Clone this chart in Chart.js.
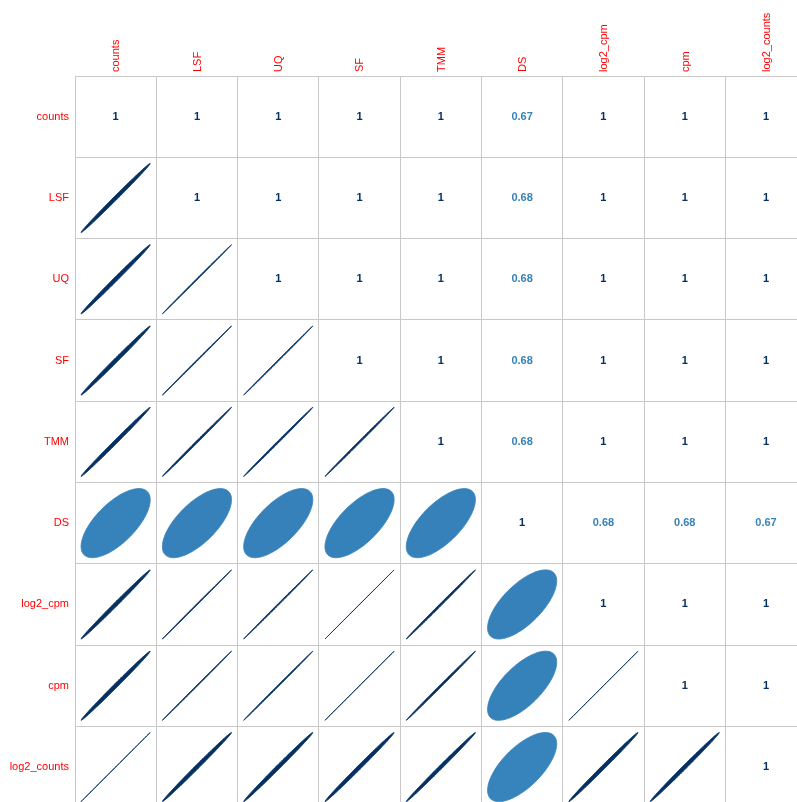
<!DOCTYPE html>
<html>
<head>
<meta charset="utf-8">
<script src="https://cdn.jsdelivr.net/npm/chart.js@4/dist/chart.umd.min.js"></script>
<style>
html, body { margin: 0; padding: 0; background: #ffffff; }
canvas { display: block; }
</style>
</head>
<body>
<canvas id="c" width="797" height="802"></canvas>
<script>
// Variable names (rows and columns of the correlation matrix)
const variables = ['counts', 'LSF', 'UQ', 'SF', 'TMM', 'DS', 'log2_cpm', 'cpm', 'log2_counts'];

// Correlation matrix, one row per variable
const r_counts      = [1,        0.9972,  0.9970,  0.9970,   0.9975, 0.674, 0.9972,   0.9970,   0.999999];
const r_LSF         = [0.9972,   1,       0.9998,  0.9998,   0.9993, 0.679, 0.9998,   0.9998,   0.9971];
const r_UQ          = [0.9970,   0.9998,  1,       0.9998,   0.9994, 0.678, 0.9997,   0.9997,   0.9970];
const r_SF          = [0.9970,   0.9998,  0.9998,  1,        0.9994, 0.681, 0.999995, 0.999995, 0.9970];
const r_TMM         = [0.9975,   0.9993,  0.9994,  0.9994,   1,      0.679, 0.9992,   0.9992,   0.9976];
const r_DS          = [0.674,    0.679,   0.678,   0.681,    0.679,  1,     0.678,    0.680,    0.672];
const r_log2_cpm    = [0.9972,   0.9998,  0.9997,  0.999995, 0.9992, 0.678, 1,        0.999998, 0.9972];
const r_cpm         = [0.9970,   0.9998,  0.9997,  0.999995, 0.9992, 0.680, 0.999998, 1,        0.9971];
const r_log2_counts = [0.999999, 0.9971,  0.9970,  0.9970,   0.9976, 0.672, 0.9972,   0.9971,   1];

const corr = [r_counts, r_LSF, r_UQ, r_SF, r_TMM, r_DS, r_log2_cpm, r_cpm, r_log2_counts];

// Diverging palette (red -> white -> blue), correlation -1 .. 1
const palette = ['#67001F', '#B2182B', '#D6604D', '#F4A582', '#FDDBC7', '#FFFFFF',
                 '#D1E5F0', '#92C5DE', '#4393C3', '#2166AC', '#053061'];

function hexToRgb(h) {
  return [parseInt(h.slice(1, 3), 16), parseInt(h.slice(3, 5), 16), parseInt(h.slice(5, 7), 16)];
}
function colorFor(r) {
  const f = (Math.max(-1, Math.min(1, r)) + 1) / 2 * (palette.length - 1);
  const i = Math.min(palette.length - 2, Math.floor(f));
  const t = f - i;
  const a = hexToRgb(palette[i]), b = hexToRgb(palette[i + 1]);
  const c = a.map((v, k) => Math.round(v + (b[k] - v) * t));
  return 'rgb(' + c.join(',') + ')';
}

// Ellipse outline in data units, centred on the cell (col, row)
function ellipsePoints(rho, col, row) {
  const a = Math.acos(Math.min(1, rho)) / 2;
  const pts = [];
  const n = 99;
  for (let k = 0; k < n; k++) {
    const t = 2 * Math.PI * k / (n - 1);
    pts.push({ x: col + 0.85 * Math.cos(t + a) / 2, y: row - 0.85 * Math.cos(t - a) / 2 });
  }
  return pts;
}

const datasets = [];
for (let i = 0; i < variables.length; i++) {
  for (let j = 0; j < i; j++) {
    const r = corr[i][j];
    const col = colorFor(r);
    datasets.push({
      label: variables[i] + ' ~ ' + variables[j],
      data: ellipsePoints(r, j, i),
      showLine: true,
      fill: 'shape',
      backgroundColor: col,
      borderColor: col,
      borderWidth: 1,
      pointRadius: 0,
      pointHoverRadius: 0,
      tension: 0.0001,
      cubicInterpolationMode: 'default'
    });
  }
}

function fmt(r) {
  return String(Math.round(r * 100) / 100);
}

const numbersPlugin = {
  id: 'corrNumbers',
  afterDatasetsDraw(chart) {
    const { ctx } = chart;
    const xs = chart.scales.x, ys = chart.scales.y;
    ctx.save();
    ctx.font = 'bold 11px "Liberation Sans", Arial, sans-serif';
    ctx.textAlign = 'center';
    ctx.textBaseline = 'middle';
    for (let i = 0; i < variables.length; i++) {
      for (let j = i; j < variables.length; j++) {
        const r = corr[i][j];
        ctx.fillStyle = colorFor(r);
        ctx.fillText(fmt(r), xs.getPixelForValue(j), ys.getPixelForValue(i));
      }
    }
    ctx.restore();
  }
};

const labelFont = { family: '"Liberation Sans", Arial, sans-serif', size: 11 };

new Chart(document.getElementById('c'), {
  type: 'scatter',
  data: { datasets },
  options: {
    responsive: false,
    animation: false,
    devicePixelRatio: 1,
    layout: { padding: 0 },
    events: [],
    plugins: { legend: { display: false }, tooltip: { enabled: false } },
    scales: {
      x: {
        type: 'linear',
        position: 'top',
        min: -0.5,
        max: 8.381,
        afterBuildTicks: (s) => { s.ticks = variables.map((_, i) => ({ value: i })); },
        afterFit: (s) => {
          s.height = 76;
          s.paddingLeft = 0; s.paddingRight = 0; s.paddingTop = 0; s.paddingBottom = 0;
        },
        ticks: {
          autoSkip: false, minRotation: 90, maxRotation: 90, padding: 4, labelOffset: 14,
          color: '#FF0000', font: labelFont,
          callback: (v) => variables[v]
        },
        grid: { offset: true, color: '#c8c8c8', lineWidth: 1, drawTicks: false },
        border: { display: false }
      },
      y: {
        type: 'linear',
        position: 'left',
        reverse: true,
        min: -0.5,
        max: 8.430,
        afterBuildTicks: (s) => { s.ticks = variables.map((_, i) => ({ value: i })); },
        afterFit: (s) => {
          s.width = 75;
          s.paddingLeft = 0; s.paddingRight = 0; s.paddingTop = 0; s.paddingBottom = 0;
        },
        ticks: {
          autoSkip: false, padding: 6,
          color: '#FF0000', font: labelFont,
          callback: (v) => variables[v]
        },
        grid: { offset: true, color: '#c8c8c8', lineWidth: 1, drawTicks: false },
        border: { display: false }
      }
    }
  },
  plugins: [numbersPlugin]
});
</script>
</body>
</html>
